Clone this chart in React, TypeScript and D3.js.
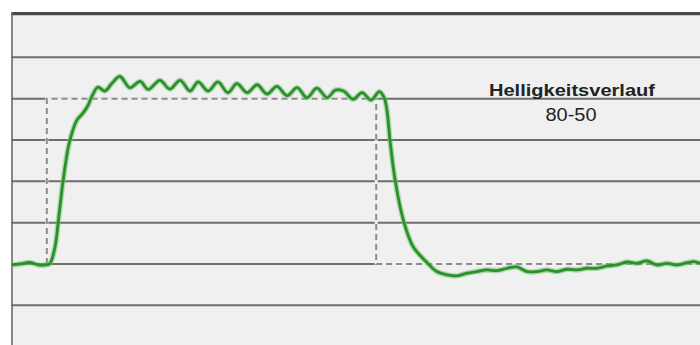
import React from "react";
import * as d3 from "d3";

// Time axis in ms, brightness in % of the step (0 = start level, 100 = target level)
const measuredTime = [
  0, 1.9, 4.2, 6.1, 7.7, 8.8, 10.0, 10.8, 11.9, 13.1, 14.0, 15.1, 16.5, 17.7, 18.6, 20.0,
  21.6, 23.2, 25.1, 27.4, 29.8, 31.7, 34.4, 36.7, 39.1, 41.4, 43.3, 45.6, 47.9, 50.2,
  52.3, 54.7, 57.0, 59.3, 61.6, 64.0, 66.3, 68.6, 70.9, 73.3, 75.2, 77.2, 79.3, 81.4,
  83.5, 85.4, 86.5, 87.2, 87.9, 89.1, 91.0, 93.3, 96.4, 98.8, 101.2, 103.5, 105.8,
  108.1, 110.5, 112.8, 115.1, 117.4, 119.8, 122.1, 124.4, 126.7, 129.1, 131.4, 133.7,
  136.0, 138.4, 140.7, 143.0, 145.3, 147.7, 150.0, 152.3, 154.7, 157.0, 158.6, 160.0,
];
const measuredValue = [
  -0.6, 0, 0.9, -0.6, -0.6, 0.3, 10.3, 26.6, 50.7, 70.7, 79.7, 87.0, 91.2, 96.0, 101.5, 106.9,
  104.6, 109.1, 113.4, 106.6, 110.4, 105.6, 111.1, 105.8, 111.1, 104.6, 110.1, 104.6, 110.1, 103.6,
  109.1, 103.6, 108.4, 102.8, 107.4, 101.8, 106.6, 100.6, 106.3, 100.6, 105.1, 104.5, 99.6, 103.6,
  99.1, 104.2, 100.9, 93.0, 74.9, 50.7, 26.6, 10.4, 1.2, -4.6, -6.6, -7.2, -5.6,
  -4.6, -3.6, -4.0, -2.6, -1.8, -4.6, -4.6, -3.6, -4.6, -3.2, -3.6, -2.6,
  -2.6, -1.2, -0.6, 1.2, 0.4, 1.8, -0.6, 0.4, -0.6, 0.8, 1.4, 0.4,
];

// Ideal square response
const idealTime = [8.1, 8.1, 84.7, 84.7, 160];
const idealValue = [0, 100, 100, 0, 0];

const gridTicks = [-25, 0, 25, 50, 75, 100, 125];

const titleLines = ["Helligkeitsverlauf", "80-50"];

const W = 700;
const H = 345;
const frameLeft = 11.5;
const frameTop = 12;

export default function App() {
  const x = d3.scaleLinear().domain([0, 160]).range([12, 700]);
  const y = d3.scaleLinear().domain([-25, 125]).range([305.3, 57.3]);

  const measured = measuredTime.map((t, i) => [t, measuredValue[i]] as [number, number]);
  const ideal = idealTime.map((t, i) => [t, idealValue[i]] as [number, number]);

  const curveLine = d3
    .line<[number, number]>()
    .x((d) => x(d[0]))
    .y((d) => y(d[1]))
    .curve(d3.curveCatmullRom.alpha(0.5));
  const stepLine = d3
    .line<[number, number]>()
    .x((d) => x(d[0]))
    .y((d) => y(d[1]));

  return (
    <svg
      width={W}
      height={H}
      style={{ position: "absolute", left: 0, top: 0, display: "block" }}
    >
      <rect x={0} y={0} width={W} height={H} fill="#ffffff" />
      <rect x={frameLeft} y={frameTop} width={W - frameLeft} height={H - frameTop} fill="#f0f0f0" />

      {gridTicks.map((v) => (
        <line
          key={v}
          x1={frameLeft}
          x2={W}
          y1={y(v)}
          y2={y(v)}
          stroke="#6e6e6e"
          strokeWidth={2}
        />
      ))}

      {/* frame */}
      <line x1={frameLeft} x2={W} y1={frameTop + 1.6} y2={frameTop + 1.6} stroke="#4a4a4a" strokeWidth={3.2} />
      <line x1={frameLeft + 0.5} x2={frameLeft + 0.5} y1={frameTop} y2={H} stroke="#6a6a6a" strokeWidth={1.6} />

      {/* ideal response, drawn over the grid */}
      <path d={stepLine(ideal) ?? ""} fill="none" stroke="#f0f0f0" strokeWidth={3} />
      <path
        d={stepLine(ideal) ?? ""}
        fill="none"
        stroke="#8e8a90"
        strokeWidth={2}
        strokeDasharray="6,4"
      />

      {/* measured response */}
      <path
        d={curveLine(measured) ?? ""}
        fill="none"
        stroke="#74c474"
        strokeOpacity={0.55}
        strokeWidth={5.5}
        strokeLinejoin="round"
      />
      <path
        d={curveLine(measured) ?? ""}
        fill="none"
        stroke="#2b8f2b"
        strokeWidth={2.8}
        strokeLinejoin="round"
      />

      <text
        x={572}
        y={95.5}
        textAnchor="middle"
        fontFamily="Liberation Sans, Arial, sans-serif"
        fontWeight="bold"
        fontSize={17}
        fill="#222"
        textLength={166}
        lengthAdjust="spacingAndGlyphs"
      >
        {titleLines[0]}
      </text>
      <text
        x={571}
        y={120.5}
        textAnchor="middle"
        fontFamily="Liberation Sans, Arial, sans-serif"
        fontSize={17.5}
        fill="#222"
        textLength={51}
        lengthAdjust="spacingAndGlyphs"
      >
        {titleLines[1]}
      </text>
    </svg>
  );
}
